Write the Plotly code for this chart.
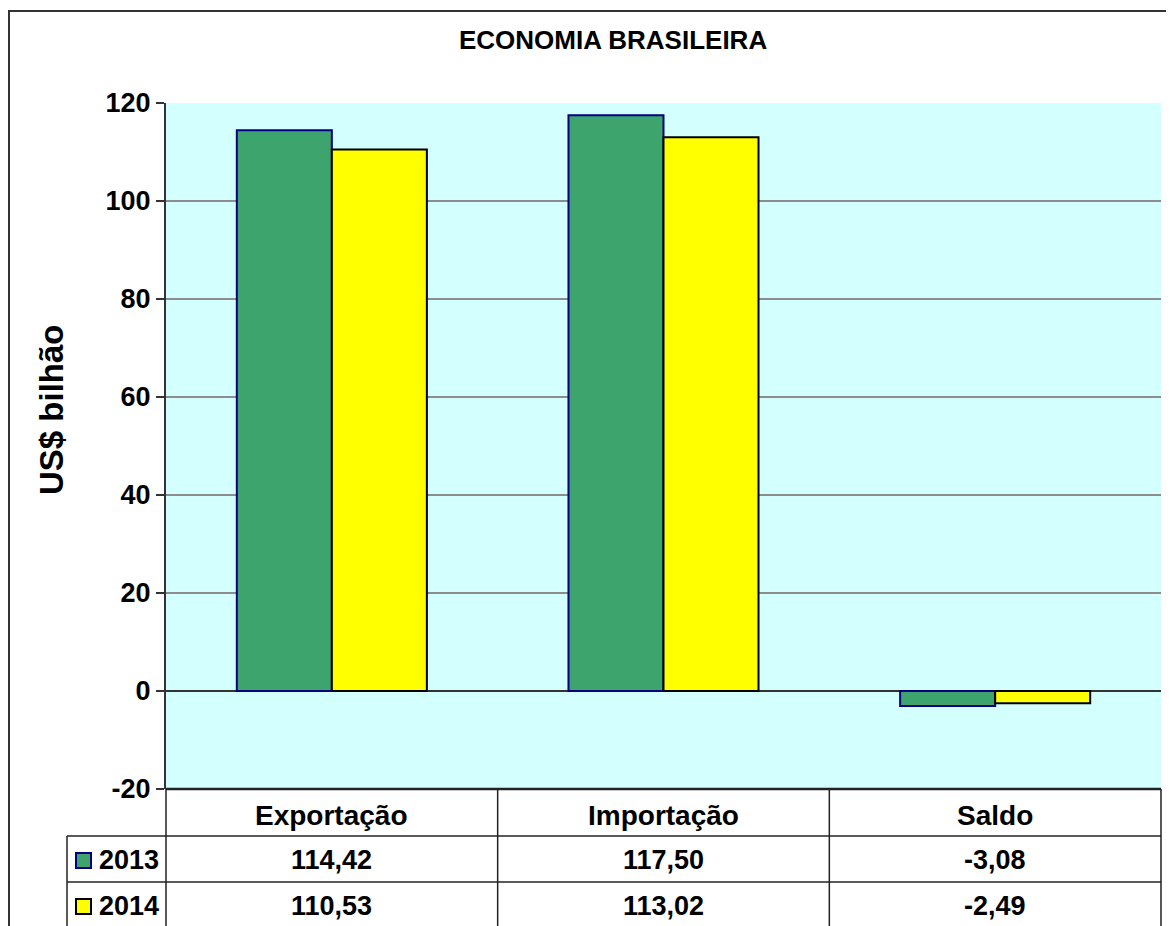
import plotly.graph_objects as go

# ---- data ----
categories = ["Exportação", "Importação", "Saldo"]
series_names = ["2013", "2014"]
values_2013 = [114.42, 117.50, -3.08]
values_2014 = [110.53, 113.02, -2.49]
y_ticks = [-20, 0, 20, 40, 60, 80, 100, 120]
y_tick_labels = ["-20", "0", "20", "40", "60", "80", "100", "120"]
title_text = "ECONOMIA BRASILEIRA"
y_title = "US$ bilhão"

# ---- style ----
W, H = 1174, 926
OFF = 8  # default body margin of the html page
GREEN = "#3EA46E"
GREEN_EDGE = "#000080"
YELLOW = "#FFFF00"
YELLOW_EDGE = "#000000"
BG = "#D4FFFF"
FONT = "Liberation Sans, Arial, sans-serif"

# pixel layout (screen coordinates)
PL, PR, PT, PB = 166, 1161, 103, 789
ROW1, ROW2, ROW3 = 836, 882, 940
LEG_L = 67


def px(x):
    return (x - OFF) / W


def py(y):
    return 1 - (y - OFF) / H


def fmt(v):
    return f"{v:.2f}".replace(".", ",")


fig = go.Figure()
fig.add_trace(go.Bar(x=categories, y=values_2013, name=series_names[0],
                     marker=dict(color=GREEN, line=dict(color=GREEN_EDGE, width=2))))
fig.add_trace(go.Bar(x=categories, y=values_2014, name=series_names[1],
                     marker=dict(color=YELLOW, line=dict(color=YELLOW_EDGE, width=2))))

fig.update_layout(
    width=W, height=H,
    margin=dict(l=0, r=0, t=0, b=0, autoexpand=False),
    paper_bgcolor="white",
    plot_bgcolor=BG,
    showlegend=False,
    barmode="group",
    bargap=0.427,
    bargroupgap=0,
    hovermode=False,
    font=dict(family=FONT, color="black"),
    xaxis=dict(domain=[px(PL), px(PR)], showticklabels=False, ticks="",
               showgrid=False, zeroline=False, showline=False, fixedrange=True,
               automargin=False),
    yaxis=dict(domain=[py(PB), py(PT)], range=[-20, 120],
               tickmode="array", tickvals=y_ticks, ticktext=y_tick_labels,
               ticks="outside", ticklen=8, tickwidth=2, tickcolor="#333333",
               showline=True, linecolor="#333333", linewidth=2,
               showgrid=True, gridcolor="#8C8C8C", gridwidth=2,
               zeroline=True, zerolinecolor="#333333", zerolinewidth=2,
               tickfont=dict(family=FONT, size=27, color="black", weight="bold"),
               automargin=False, fixedrange=True),
)

shapes = []
line_dark = dict(color="#222222", width=2.5)
line_thin = dict(color="#222222", width=1.5)

# outer frame
shapes.append(dict(type="rect", xref="paper", yref="paper",
                   x0=px(9), x1=px(1200), y0=py(960), y1=py(11),
                   line=dict(color="#333333", width=2), fillcolor="rgba(0,0,0,0)"))
# table top / axis bottom line
shapes.append(dict(type="line", xref="paper", yref="paper",
                   x0=px(PL), x1=px(PR), y0=py(PB), y1=py(PB), line=line_dark))
# vertical lines of table
col_edges = [PL + i * (PR - PL) / 3 for i in range(4)]
for xe in col_edges:
    shapes.append(dict(type="line", xref="paper", yref="paper",
                       x0=px(xe), x1=px(xe), y0=py(PB), y1=py(ROW3), line=line_thin))
shapes.append(dict(type="line", xref="paper", yref="paper",
                   x0=px(LEG_L), x1=px(LEG_L), y0=py(ROW1), y1=py(ROW3), line=line_thin))
for yr in [ROW1, ROW2]:
    shapes.append(dict(type="line", xref="paper", yref="paper",
                       x0=px(LEG_L), x1=px(PR), y0=py(yr), y1=py(yr), line=line_thin))

annotations = []
annotations.append(dict(text=f"<b>{title_text}</b>", xref="paper", yref="paper",
                        x=px(613), y=py(40), showarrow=False,
                        font=dict(family=FONT, size=26, color="black"),
                        xanchor="center", yanchor="middle"))
annotations.append(dict(text=f"<b>{y_title}</b>", xref="paper", yref="paper",
                        x=px(51), y=py(410), showarrow=False, textangle=-90,
                        font=dict(family=FONT, size=33, color="black"),
                        xanchor="center", yanchor="middle"))

# header row
for i, c in enumerate(categories):
    cx = (col_edges[i] + col_edges[i + 1]) / 2
    annotations.append(dict(text=f"<b>{c}</b>", xref="paper", yref="paper",
                            x=px(cx), y=py(815), showarrow=False,
                            font=dict(family=FONT, size=28, color="black"),
                            xanchor="center", yanchor="middle"))

rows = [(series_names[0], values_2013, GREEN, GREEN_EDGE, 860),
        (series_names[1], values_2014, YELLOW, YELLOW_EDGE, 906)]
for name, vals, col, edge, yc in rows:
    shapes.append(dict(type="rect", xref="paper", yref="paper",
                       x0=px(76), x1=px(91), y0=py(yc + 8), y1=py(yc - 7),
                       fillcolor=col, line=dict(color=edge, width=2)))
    annotations.append(dict(text=f"<b>{name}</b>", xref="paper", yref="paper",
                            x=px(97), y=py(yc), showarrow=False,
                            font=dict(family=FONT, size=27, color="black"),
                            xanchor="left", yanchor="middle"))
    for i, v in enumerate(vals):
        cx = (col_edges[i] + col_edges[i + 1]) / 2
        annotations.append(dict(text=f"<b>{fmt(v)}</b>", xref="paper", yref="paper",
                                x=px(cx), y=py(yc), showarrow=False,
                                font=dict(family=FONT, size=27, color="black"),
                                xanchor="center", yanchor="middle"))

fig.update_layout(shapes=shapes, annotations=annotations)
fig.write_html("out.html")
